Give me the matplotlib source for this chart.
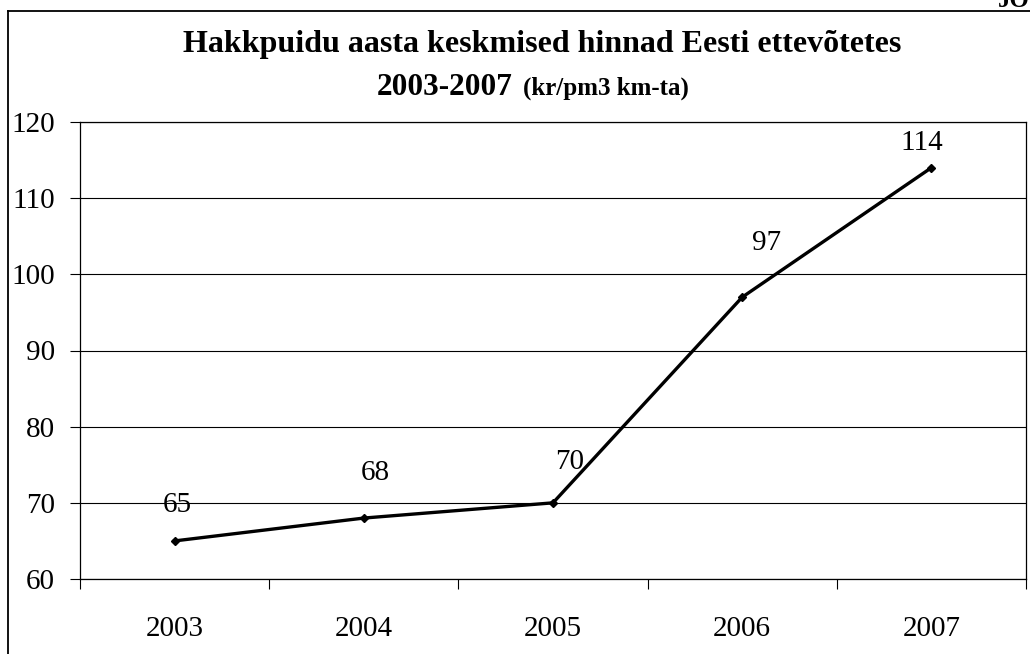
import matplotlib.pyplot as plt
from matplotlib.lines import Line2D

years = ["2003", "2004", "2005", "2006", "2007"]
prices = [65, 68, 70, 97, 114]
# label nudges in pixels (dx, dy above the point)
label_offsets = [(3, 36), (12, 45), (17, 41), (24, 54), (-10, 25)]

W, H = 1030, 654
plt.rcParams["font.family"] = ["Liberation Serif", "DejaVu Serif"]

fig = plt.figure(figsize=(W / 100, H / 100), dpi=100)
ax = fig.add_axes([80 / W, (H - 579) / H, (1026 - 80) / W, (579 - 122) / H])

x = list(range(len(years)))
ax.plot(x, prices, color="black", linewidth=2.4, marker="D", markersize=4.5,
        zorder=3, clip_on=False)

for xi, val, (dx, dy) in zip(x, prices, label_offsets):
    ax.annotate(str(val), (xi, val), xytext=(dx * 0.72, dy * 0.72),
                textcoords="offset points", ha="center", va="center",
                fontsize=21)

ax.set_xlim(-0.5, len(years) - 0.5)
ax.set_ylim(60, 120)
ax.set_yticks(range(60, 121, 10))
ax.grid(axis="y", color="black", linewidth=0.8)
ax.set_axisbelow(True)

ax.set_xticks(x)
ax.set_xticklabels(years)
ax.set_xticks([i - 0.5 for i in range(len(years) + 1)], minor=True)
ax.tick_params(axis="x", which="major", length=0, pad=27, labelsize=21)
ax.tick_params(axis="x", which="minor", length=7, width=0.8, direction="out")
ax.tick_params(axis="y", length=7, width=0.8, direction="out", pad=11,
               labelsize=21)

for side in ["left", "right", "bottom", "top"]:
    ax.spines[side].set_color("black")
    ax.spines[side].set_linewidth(0.9)

# chart frame
fig.add_artist(Line2D([8 / W, 1], [1 - 11 / H, 1 - 11 / H], color="black",
                      linewidth=1.3, transform=fig.transFigure))
fig.add_artist(Line2D([8 / W, 8 / W], [0, 1 - 11 / H], color="black",
                      linewidth=1.3, transform=fig.transFigure))
fig.text(998 / W, 1 - 7 / H, "JOONIS", fontsize=18, fontweight="bold",
         va="baseline", ha="left")

fig.text(542 / W, 1 - 52 / H, "Hakkpuidu aasta keskmised hinnad Eesti ettevõtetes",
         fontsize=23, fontweight="bold", ha="center", va="baseline")
fig.text(513 / W, 1 - 95 / H, "2003-2007", fontsize=22.5, fontweight="bold",
         ha="right", va="baseline")
fig.text(523 / W, 1 - 95 / H, "(kr/pm3 km-ta)", fontsize=18, fontweight="bold",
         ha="left", va="baseline")

fig.savefig("out.png", dpi=100)
